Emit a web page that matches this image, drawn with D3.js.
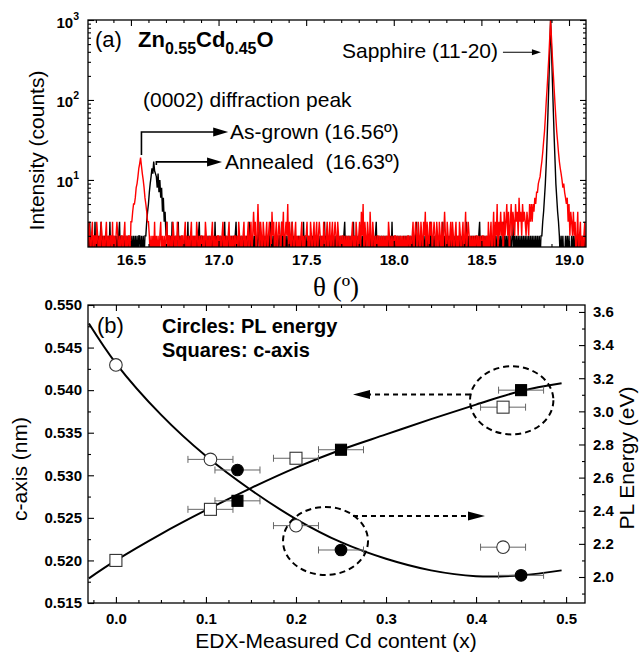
<!DOCTYPE html>
<html>
<head>
<meta charset="utf-8">
<script src="https://cdn.jsdelivr.net/npm/d3@7"></script>
<style>
  body { margin: 0; background: #fff; }
  svg { display: block; }
</style>
</head>
<body>
<script>
// ---------------- Panel (a): XRD scan, Zn0.55Cd0.45O on sapphire ----------------
const thetaStart = 16.25;     // first scan angle (deg)
const thetaStep = 0.005;      // scan step (deg)

// As-grown film, counts per step (rows of 0.1 deg)
const asGrownCounts = [
  2,1,3,2,1, 2,3,1,2,2, 1,3,2,1,2, 1,3,2,1,2,
  1,2,3,1,2, 1,2,2,1,3, 1,2,1,2,3, 2,1,2,1,2,
  2,1,2,3,1, 2,1,2,2,1, 3,3,4,5,5, 6,8,9,11,14,
  16,19,15,12,10, 8,6,5,4,3, 3,2,1,2,1, 2,1,3,1,2,
  1,2,1,2,3, 1,2,1,2,1, 2,3,1,2,2, 1,2,1,3,2,
  1,2,1,3,2, 1,2,1,2,2, 1,2,3,1,2, 1,2,1,2,3,
  1,2,1,2,1, 3,2,1,2,1, 2,2,1,2,1, 3,2,1,2,1,
  2,1,2,3,1, 2,1,2,1,2, 2,1,2,1,2, 3,1,2,1,2,
  1,2,3,1,2, 1,2,1,2,2, 1,2,1,3,2, 1,2,1,2,3,
  1,2,1,2,3, 1,2,3,1,2, 4,2,3,1,2, 5,2,1,3,2,
  1,3,2,1,2, 3,1,2,3,2, 1,4,2,3,1, 2,3,1,2,3,
  2,1,3,2,4, 1,2,3,2,5, 1,3,2,1,3, 2,1,2,3,1,
  2,1,2,1,2, 3,1,2,1,2, 2,3,1,2,1, 3,2,1,2,3,
  1,2,3,1,2, 3,2,1,2,1, 3,2,1,2,3, 1,2,3,1,2,
  3,1,2,3,2, 1,3,2,1,2, 1,2,2,1,2, 1,2,1,2,1,
  2,1,2,3,1, 2,1,3,2,1, 2,3,1,4,2, 5,1,3,2,1,
  3,2,1,4,2, 1,3,2,1,2, 1,2,2,1,2, 1,2,1,2,1,
  2,1,2,1,3, 2,1,2,1,2, 1,2,2,1,2, 1,2,1,2,1,
  2,1,2,1,2, 1,2,2,1,2, 1,2,3,1,2, 3,2,1,3,2,
  1,3,2,1,3, 2,4,1,3,2, 1,3,2,3,1, 2,3,2,1,3,
  2,1,3,2,1, 3,1,2,4,2, 1,3,2,1,2, 3,1,3,2,1,
  2,3,1,2,1, 3,2,1,2,3, 1,2,4,1,2, 3,2,1,2,1,
  2,1,2,1,2, 2,1,2,1,2, 1,2,2,1,2, 1,2,1,3,1,
  2,3,1,2,4, 1,3,2,5,1, 3,2,4,2,3, 1,4,2,3,5,
  2,4,1,3,5, 2,4,3,2,5, 3,4,2,6,3, 4,2,5,3,4,
  3,2,4,3,2, 5,3,5,3,5, 4,6,5,7,7, 9,10,11,14,17,
  22,30,40,60,95, 140,220,350,600,1000, 600,350,220,140,90, 60,40,30,22,17,
  14,12,10,8,9, 7,6,5,6,3, 5,2,4,3,2, 4,2,3,1,2,
  4,1,2,3,1, 2,1,2,3,1, 2
];

// Annealed film, counts per step (rows of 0.1 deg)
const annealedCounts = [
  1,2,1,3,1, 2,1,2,1,3, 1,2,1,2,1, 2,3,1,2,1,
  2,1,2,1,2, 1,3,1,2,1, 2,1,2,1,2, 1,2,3,1,2,
  1,2,1,2,1, 2,1,2,1,2, 1,2,1,2,1, 2,1,2,1,2,
  2,1,2,1,2, 1,2,2,3,4, 5,7,9,11,14, 12,17,13,12,11,
  8,12,7,10,6, 8,4,6,3,4, 2,3,1,2,1, 2,1,3,1,2,
  1,2,1,2,3, 1,2,1,2,1, 1,2,1,2,1, 3,1,2,1,2,
  1,2,1,2,1, 2,1,2,3,1, 2,1,2,1,2, 1,2,1,2,1,
  2,1,2,1,2, 1,3,1,2,1, 2,1,2,1,2, 1,2,3,1,2,
  1,2,1,2,1, 2,1,2,1,2, 3,1,2,1,2, 1,2,1,2,1,
  2,1,2,1,2, 3,1,2,1,2, 1,2,1,2,1, 2,3,1,2,1,
  1,2,1,2,1, 2,1,2,1,3, 1,2,1,2,1, 2,1,2,1,2,
  2,1,3,1,2, 1,2,1,2,1, 2,1,2,1,3, 1,2,1,2,1,
  1,2,1,2,1, 2,1,3,1,2, 1,2,1,2,1, 2,1,2,1,2,
  2,1,2,1,2, 1,2,1,2,1, 2,3,1,2,1, 2,1,2,1,2,
  1,2,1,2,1, 2,1,2,1,2, 1,2,1,2,3, 1,2,1,2,1,
  2,1,2,1,3, 1,2,1,2,1, 2,1,2,1,2, 1,2,1,2,1,
  1,2,1,2,1, 2,1,2,1,2, 3,1,2,1,2, 1,2,1,2,1,
  2,1,2,1,2, 1,2,1,3,1, 2,1,2,1,2, 1,2,1,2,1,
  1,2,1,2,1, 2,1,2,1,2, 1,2,1,2,1, 2,3,1,2,1,
  2,1,2,1,2, 1,2,1,2,1, 2,1,3,1,2, 1,2,1,2,1,
  1,2,1,2,1, 2,3,1,2,1, 2,1,2,1,2, 1,2,1,2,1,
  2,1,2,1,2, 1,2,1,2,1, 2,1,2,3,1, 2,1,2,1,2,
  1,2,1,2,1, 2,1,2,3,1, 2,1,2,1,2, 1,2,1,2,1,
  2,1,2,1,2, 1,2,1,2,1, 2,1,2,1,2, 3,1,2,1,2,
  1,2,1,2,1, 2,3,1,2,1, 2,1,2,1,2, 1,2,1,2,1,
  2,1,2,1,2, 1,2,1,2,1, 2,1,2,1,2, 1,2,1,2,2,
  3,4,6,9,16, 33,70,160,400,1000, 440,180,80,36,18, 9,6,4,3,2,
  1,2,1,2,1, 1,2,1,2,1, 2,1,1,2,1, 2,1,2,1,2,
  1,2,1,2,1, 2,1,1,2,1, 2
];

const thetaTicks = [16.5, 17.0, 17.5, 18.0, 18.5, 19.0];
const intensityTicks = [10, 100, 1000];
const asGrownPeak = 16.56;
const annealedPeak = 16.63;

// ---------------- Panel (b): c-axis and PL energy vs Cd content ----------------
const cdTicks = [0.0, 0.1, 0.2, 0.3, 0.4, 0.5];
const cAxisTicks = [0.515, 0.520, 0.525, 0.530, 0.535, 0.540, 0.545, 0.550];
const plTicks = [2.0, 2.2, 2.4, 2.6, 2.8, 3.0, 3.2, 3.4, 3.6];

// squares: c-axis (nm)
const cAxisOpenX = [0.0, 0.105, 0.2, 0.43];
const cAxisOpen = [0.520, 0.526, 0.532, 0.538];
const cAxisOpenErr = [0, 0.025, 0.025, 0.025];
const cAxisFilledX = [0.135, 0.25, 0.45];
const cAxisFilled = [0.527, 0.533, 0.540];
const cAxisFilledErr = [0.025, 0.025, 0.025];

// circles: PL energy (eV)
const plOpenX = [0.0, 0.105, 0.2, 0.43];
const plOpen = [3.28, 2.71, 2.31, 2.18];
const plOpenErr = [0, 0.025, 0.025, 0.025];
const plFilledX = [0.135, 0.25, 0.45];
const plFilled = [2.646, 2.163, 2.01];
const plFilledErr = [0.025, 0.025, 0.025];

// fitted trend lines
const fitX = [-0.03, 0.0, 0.05, 0.1, 0.15, 0.2, 0.25, 0.3, 0.35, 0.4, 0.45, 0.495];
const cAxisFit = [0.5179, 0.5200, 0.5231, 0.5259, 0.5285, 0.5309, 0.5330, 0.5348, 0.5366, 0.5383, 0.5399, 0.5408];
const plFit = [3.53, 3.29, 2.98, 2.73, 2.525, 2.35, 2.21, 2.11, 2.04, 2.005, 2.01, 2.04];

// ---------------- drawing ----------------
const SANS = '"Liberation Sans", Arial, Helvetica, sans-serif';
const SERIF = '"Liberation Serif", "Times New Roman", serif';

const svg = d3.select("body").append("svg")
  .attr("width", 639).attr("height", 655)
  .attr("font-family", SANS);

const A = { left: 88, right: 586, top: 20, bottom: 247 };
const B = { left: 88, right: 585, top: 305, bottom: 603 };

function styleAxis(g, labelled) {
  g.select(".domain").remove();
  g.selectAll(".tick line").attr("stroke", "#000").attr("stroke-width", 1.1);
  g.selectAll(".tick text")
    .attr("fill", "#000")
    .attr("font-family", SANS)
    .attr("font-weight", "bold")
    .attr("font-size", 15);
  if (!labelled) g.selectAll(".tick text").remove();
  return g;
}

function addAxis(gen, tx, ty, labelled) {
  const g = svg.append("g").attr("transform", `translate(${tx},${ty})`).call(gen);
  return styleAxis(g, labelled);
}

function frame(box) {
  svg.append("rect")
    .attr("x", box.left).attr("y", box.top)
    .attr("width", box.right - box.left).attr("height", box.bottom - box.top)
    .attr("fill", "none").attr("stroke", "#000").attr("stroke-width", 1.3);
}

function arrowHead(parent, tip, dir, len, half, color) {
  const [tx, ty] = tip, [dx, dy] = dir;
  const bx = tx - dx * len, by = ty - dy * len;
  const nx = -dy, ny = dx;
  parent.append("path")
    .attr("d", `M${tx},${ty}L${bx + nx * half},${by + ny * half}L${bx - nx * half},${by - ny * half}Z`)
    .attr("fill", color);
}

// ===== Panel (a) =====
const xa = d3.scaleLinear().domain([16.255, 19.097]).range([A.left, A.right]);
const ya = d3.scaleLog().domain([1.45, 1000]).range([A.bottom, A.top]);

svg.append("defs").append("clipPath").attr("id", "clipA")
  .append("rect").attr("x", A.left).attr("y", A.top)
  .attr("width", A.right - A.left).attr("height", A.bottom - A.top);

const scanLine = d3.line()
  .x((d, i) => xa(thetaStart + i * thetaStep))
  .y(d => ya(d));

const plotA = svg.append("g").attr("clip-path", "url(#clipA)");
plotA.append("path").datum(annealedCounts)
  .attr("d", scanLine).attr("fill", "none").attr("stroke", "#000").attr("stroke-width", 1.4);
plotA.append("path").datum(asGrownCounts)
  .attr("d", scanLine).attr("fill", "none").attr("stroke", "#ff0000").attr("stroke-width", 1.4);

// axes of (a)
const thetaMinor = d3.range(163, 191).filter(v => v % 5 !== 0).map(v => v / 10);
addAxis(d3.axisBottom(xa).tickValues(thetaTicks).tickSize(-6).tickPadding(7).tickFormat(d3.format(".1f")), 0, A.bottom, true);
addAxis(d3.axisBottom(xa).tickValues(thetaMinor).tickSize(-3).tickFormat(""), 0, A.bottom, false);
addAxis(d3.axisTop(xa).tickValues(thetaTicks).tickSize(-6).tickFormat(""), 0, A.top, false);
addAxis(d3.axisTop(xa).tickValues(thetaMinor).tickSize(-3).tickFormat(""), 0, A.top, false);

const logMinor = [];
[1, 10, 100].forEach(p => d3.range(2, 10).forEach(m => {
  const v = m * p;
  if (v > 1.45 && v < 1000) logMinor.push(v);
}));
addAxis(d3.axisLeft(ya).tickValues(intensityTicks).tickSize(-6).tickFormat(""), A.left, 0, false);
addAxis(d3.axisLeft(ya).tickValues(logMinor).tickSize(-3).tickFormat(""), A.left, 0, false);
addAxis(d3.axisRight(ya).tickValues(intensityTicks).tickSize(-6).tickFormat(""), A.right, 0, false);
addAxis(d3.axisRight(ya).tickValues(logMinor).tickSize(-3).tickFormat(""), A.right, 0, false);

// power-of-ten labels
intensityTicks.forEach(v => {
  const t = svg.append("text")
    .attr("x", A.left - 9).attr("y", ya(v) + 7.5)
    .attr("text-anchor", "end")
    .attr("font-weight", "bold").attr("font-size", 15);
  t.append("tspan").text("10");
  t.append("tspan").attr("font-size", 10.5).attr("dy", -8).text(String(Math.round(Math.log10(v))));
});

frame(A);

// axis titles of (a)
svg.append("text")
  .attr("transform", `translate(44,${(A.top + A.bottom) / 2 + 17}) rotate(-90)`)
  .attr("text-anchor", "middle").attr("font-size", 21)
  .text("Intensity (counts)");
svg.append("text")
  .attr("x", 336).attr("y", 296)
  .attr("text-anchor", "middle").attr("font-family", SERIF).attr("font-size", 27)
  .text("θ (º)");

// labels of (a)
svg.append("text").attr("x", 95).attr("y", 47).attr("font-size", 22).text("(a)");
const comp = svg.append("text").attr("x", 138).attr("y", 47)
  .attr("font-weight", "bold").attr("font-size", 22);
comp.append("tspan").text("Zn");
comp.append("tspan").attr("font-size", 16).attr("dy", 7).text("0.55");
comp.append("tspan").attr("dy", -7).text("Cd");
comp.append("tspan").attr("font-size", 16).attr("dy", 7).text("0.45");
comp.append("tspan").attr("dy", -7).text("O");

svg.append("text").attr("x", 143).attr("y", 107).attr("font-size", 21)
  .text("(0002) diffraction peak");
svg.append("text").attr("x", 230).attr("y", 139).attr("font-size", 21)
  .text("As-grown (16.56º)");
svg.append("text").attr("x", 225).attr("y", 169).attr("font-size", 21)
  .attr("xml:space", "preserve").style("white-space", "pre")
  .text("Annealed  (16.63º)");
svg.append("text").attr("x", 342).attr("y", 58).attr("font-size", 21)
  .text("Sapphire (11-20)");

// peak pointers
const annG = svg.append("g");
const agY = ya(39.8), agX0 = xa(asGrownPeak), agX1 = xa(17.055);
annG.append("path")
  .attr("d", `M${agX0},${ya(20.5)}V${agY}H${agX1 - 12}`)
  .attr("fill", "none").attr("stroke", "#000").attr("stroke-width", 1.6);
arrowHead(annG, [agX1, agY], [1, 0], 15, 4.5, "#000");

const anY = ya(16.8), anX0 = xa(annealedPeak + 0.015), anX1 = xa(17.02);
annG.append("path")
  .attr("d", `M${anX0},${anY + 3}V${anY}H${anX1 - 12}`)
  .attr("fill", "none").attr("stroke", "#000").attr("stroke-width", 1.6);
arrowHead(annG, [anX1, anY], [1, 0], 15, 4.5, "#000");

const saY = ya(395), saX0 = xa(18.623), saX1 = xa(18.84);
annG.append("path").attr("d", `M${saX0},${saY}H${saX1 - 6}`)
  .attr("fill", "none").attr("stroke", "#000").attr("stroke-width", 1.2);
arrowHead(annG, [saX1, saY], [1, 0], 9, 3, "#000");

// ===== Panel (b) =====
const xb = d3.scaleLinear().domain([-0.031, 0.521]).range([B.left, B.right]);
const yc = d3.scaleLinear().domain([0.515, 0.550]).range([B.bottom, B.top]);
const ye = d3.scaleLinear().domain([1.843, 3.642]).range([B.bottom, B.top]);

svg.append("defs").append("clipPath").attr("id", "clipB")
  .append("rect").attr("x", B.left).attr("y", B.top)
  .attr("width", B.right - B.left).attr("height", B.bottom - B.top);

const cdMinor = d3.range(-1, 21).filter(v => v % 4 !== 0).map(v => v * 0.025);
const cMinor = d3.range(0, 7).map(v => 0.5175 + v * 0.005);
const eMinor = d3.range(0, 9).map(v => 1.9 + v * 0.2);

addAxis(d3.axisBottom(xb).tickValues(cdTicks).tickSize(-6).tickPadding(10).tickFormat(d3.format(".1f")), 0, B.bottom, true);
addAxis(d3.axisBottom(xb).tickValues(cdMinor).tickSize(-3).tickFormat(""), 0, B.bottom, false);
addAxis(d3.axisTop(xb).tickValues(cdTicks).tickSize(-6).tickFormat(""), 0, B.top, false);
addAxis(d3.axisTop(xb).tickValues(cdMinor).tickSize(-3).tickFormat(""), 0, B.top, false);
addAxis(d3.axisLeft(yc).tickValues(cAxisTicks).tickSize(-6).tickPadding(6).tickFormat(d3.format(".3f")), B.left, 0, true);
addAxis(d3.axisLeft(yc).tickValues(cMinor).tickSize(-3).tickFormat(""), B.left, 0, false);
addAxis(d3.axisRight(ye).tickValues(plTicks).tickSize(-6).tickPadding(8).tickFormat(d3.format(".1f")), B.right, 0, true);
addAxis(d3.axisRight(ye).tickValues(eMinor).tickSize(-3).tickFormat(""), B.right, 0, false);

const plotB = svg.append("g").attr("clip-path", "url(#clipB)");

// fitted curves
const cLine = d3.line().x((d, i) => xb(fitX[i])).y(d => yc(d)).curve(d3.curveCatmullRom);
const eLine = d3.line().x((d, i) => xb(fitX[i])).y(d => ye(d)).curve(d3.curveCatmullRom);
plotB.append("path").datum(cAxisFit).attr("d", cLine)
  .attr("fill", "none").attr("stroke", "#000").attr("stroke-width", 2);
plotB.append("path").datum(plFit).attr("d", eLine)
  .attr("fill", "none").attr("stroke", "#000").attr("stroke-width", 2);

// horizontal error bars
function errorBars(xs, ys, errs, yScale) {
  xs.forEach((x, i) => {
    if (!errs[i]) return;
    const y = yScale(ys[i]), x0 = xb(x - errs[i]), x1 = xb(x + errs[i]);
    plotB.append("path")
      .attr("d", `M${x0},${y}H${x1}M${x0},${y - 3.5}V${y + 3.5}M${x1},${y - 3.5}V${y + 3.5}`)
      .attr("fill", "none").attr("stroke", "#666").attr("stroke-width", 1);
  });
}
errorBars(cAxisOpenX, cAxisOpen, cAxisOpenErr, yc);
errorBars(cAxisFilledX, cAxisFilled, cAxisFilledErr, yc);
errorBars(plOpenX, plOpen, plOpenErr, ye);
errorBars(plFilledX, plFilled, plFilledErr, ye);

// markers
function squares(xs, ys, size, filled) {
  plotB.selectAll(null).data(xs).enter().append("rect")
    .attr("x", (d) => xb(d) - size / 2)
    .attr("y", (d, i) => yc(ys[i]) - size / 2)
    .attr("width", size).attr("height", size)
    .attr("fill", filled ? "#000" : "#fff")
    .attr("stroke", filled ? "#000" : "#333").attr("stroke-width", 1.1);
}
function circles(xs, ys, r, filled) {
  plotB.selectAll(null).data(xs).enter().append("circle")
    .attr("cx", (d) => xb(d))
    .attr("cy", (d, i) => ye(ys[i]))
    .attr("r", r)
    .attr("fill", filled ? "#000" : "#fff")
    .attr("stroke", filled ? "#000" : "#333").attr("stroke-width", 1.1);
}
squares(cAxisOpenX, cAxisOpen, 12, false);
squares(cAxisFilledX, cAxisFilled, 11, true);
circles(plOpenX, plOpen, 6.3, false);
circles(plFilledX, plFilled, 5.8, true);

// dashed guide ellipses and arrows
const eG = svg.append("g");
function dashedEllipse(x0, x1, yTop, yBot) {
  eG.append("ellipse")
    .attr("cx", (x0 + x1) / 2).attr("cy", (yTop + yBot) / 2)
    .attr("rx", (x1 - x0) / 2).attr("ry", (yBot - yTop) / 2)
    .attr("fill", "none").attr("stroke", "#000").attr("stroke-width", 2)
    .attr("stroke-dasharray", "6,4");
}
dashedEllipse(xb(0.3933), xb(0.4859), yc(0.5428), yc(0.5348));
dashedEllipse(xb(0.1856), xb(0.2800), ye(2.4225), ye(2.012));

function dashedArrow(xFrom, xTo, y) {
  const dir = xTo > xFrom ? 1 : -1;
  eG.append("path")
    .attr("d", `M${xFrom},${y}H${xTo - dir * 14}`)
    .attr("fill", "none").attr("stroke", "#000").attr("stroke-width", 2)
    .attr("stroke-dasharray", "5,4");
  arrowHead(eG, [xTo, y], [dir, 0], 17, 4.5, "#000");
}
dashedArrow(xb(0.3933), xb(0.2633), yc(0.5395));
dashedArrow(xb(0.2633), xb(0.4099), ye(2.368));

frame(B);

// texts of (b)
svg.append("text").attr("x", 97).attr("y", 333).attr("font-size", 22).text("(b)");
svg.append("text").attr("x", 162).attr("y", 333)
  .attr("font-weight", "bold").attr("font-size", 20).text("Circles: PL energy");
svg.append("text").attr("x", 162).attr("y", 357)
  .attr("font-weight", "bold").attr("font-size", 20).text("Squares: c-axis");

svg.append("text")
  .attr("transform", `translate(27,${(B.top + B.bottom) / 2 + 15}) rotate(-90)`)
  .attr("text-anchor", "middle").attr("font-size", 21)
  .text("c-axis (nm)");
svg.append("text")
  .attr("transform", `translate(634,${(B.top + B.bottom) / 2 + 4}) rotate(-90)`)
  .attr("text-anchor", "middle").attr("font-size", 21)
  .text("PL Energy (eV)");
svg.append("text")
  .attr("x", 336).attr("y", 648)
  .attr("text-anchor", "middle").attr("font-size", 21)
  .text("EDX-Measured Cd content (x)");
</script>
</body>
</html>
